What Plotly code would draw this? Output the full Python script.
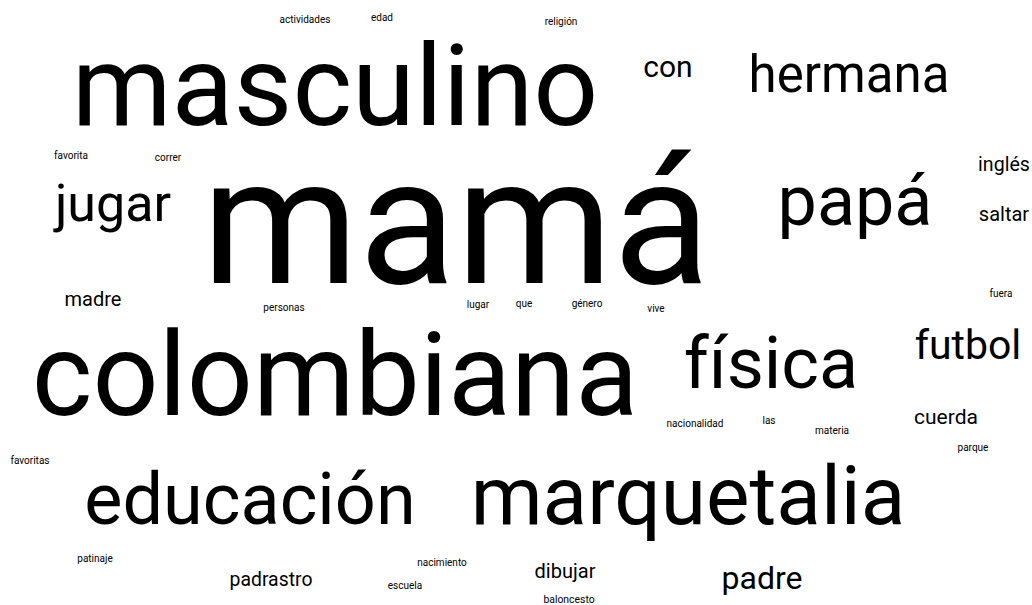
import plotly.graph_objects as go

# Word frequencies (relative weights)
words = ["mamá", "masculino", "colombiana", "marquetalia", "educación", "física",
         "papá", "hermana", "jugar", "futbol", "con", "padre", "cuerda", "dibujar",
         "padrastro", "madre", "inglés", "saltar",
         "actividades", "edad", "religión", "favorita", "correr", "personas",
         "lugar", "que", "género", "vive", "nacionalidad", "las", "materia",
         "parque", "favoritas", "fuera", "patinaje", "nacimiento", "escuela",
         "baloncesto"]
weights = [89.5, 57, 58, 41, 36, 36,
           35, 25.5, 26, 20.5, 15, 16, 10.5, 10,
           9.7, 10, 9.8, 10,
           5, 5, 5, 5, 5, 5,
           5, 5, 5, 5, 5, 5, 5,
           5, 5, 5, 5, 5, 5,
           5.2]

# Layout of the cloud (pixel positions: horizontal centre and baseline)
pos_x = [456, 335, 335, 688, 250, 771,
         855, 849, 113, 968, 668, 762, 946, 565,
         271, 93, 1004, 1004,
         305, 382, 561, 71, 168, 284,
         478, 524, 587, 656, 695, 769, 832,
         973, 30, 1001, 95, 442, 405,
         569]
pos_base = [285, 126, 416, 525, 525, 389,
            226, 93, 222, 359, 77, 589, 424, 578,
            586, 306, 171, 221,
            23, 21, 25, 159, 161, 311,
            308, 307, 307, 312, 427, 424, 434,
            451, 464, 297, 562, 566, 589,
            603]

W, H = 1032, 605
PX_PER_WEIGHT = 2.0
sizes = [w * PX_PER_WEIGHT for w in weights]
# plotly centres text so the baseline sits about 0.26em below the anchor
ys = [b - 0.26 * s for b, s in zip(pos_base, sizes)]

fig = go.Figure(go.Scatter(
    x=pos_x, y=ys, text=words, mode="text",
    textposition="middle center",
    textfont=dict(family="Roboto", size=sizes, color="#000000"),
    hoverinfo="text",
))
fig.update_layout(
    width=W, height=H,
    margin=dict(l=0, r=0, t=0, b=0),
    paper_bgcolor="white", plot_bgcolor="white",
    xaxis=dict(range=[0, W], visible=False, fixedrange=True),
    yaxis=dict(range=[H, 0], visible=False, fixedrange=True),
    showlegend=False,
)
fig.write_html(
    "out.html",
    config={"displayModeBar": False},
    post_script="document.body.style.margin='0';document.body.style.overflow='hidden';",
)
